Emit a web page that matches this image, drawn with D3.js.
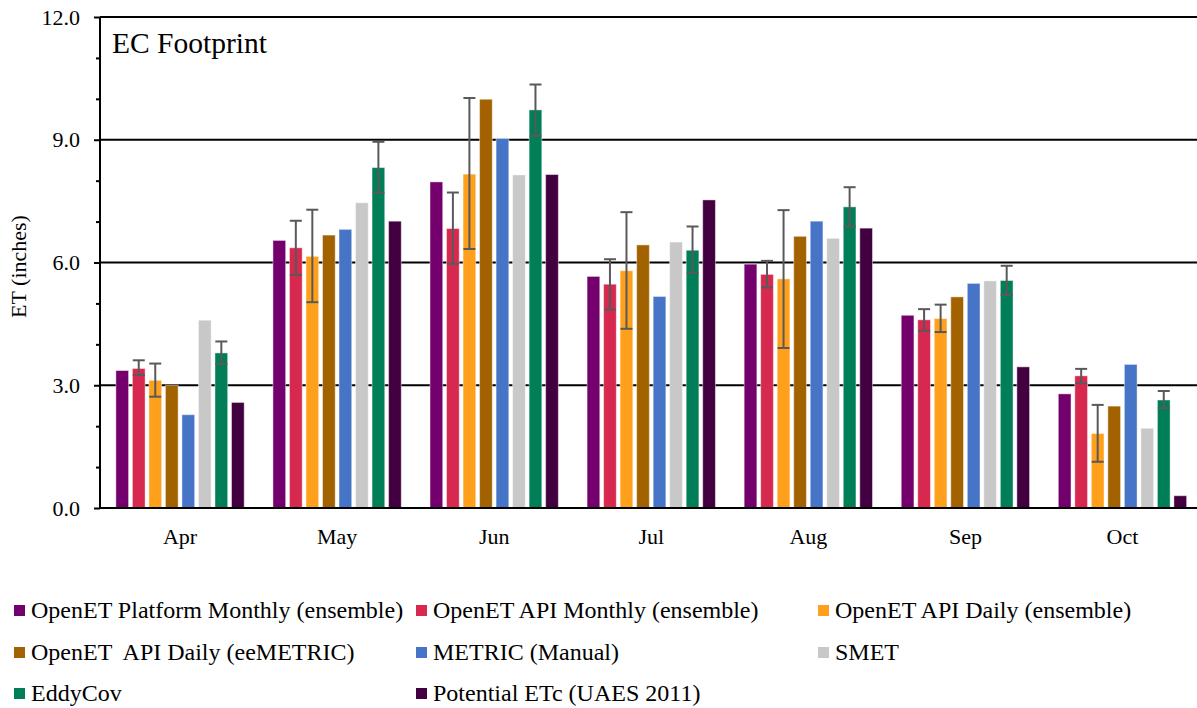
<!DOCTYPE html>
<html>
<head>
<meta charset="utf-8">
<script src="https://cdn.jsdelivr.net/npm/d3@7"></script>
<style>
  html, body { margin: 0; padding: 0; background: #fff; }
  svg { display: block; }
</style>
</head>
<body>
<svg id="chart" width="1197" height="708" font-family="Liberation Serif"></svg>
<script>
// Monthly ET (inches) at the EC footprint, by estimation method
const months = ["Apr", "May", "Jun", "Jul", "Aug", "Sep", "Oct"];

const seriesNames = [
  "OpenET Platform Monthly (ensemble)",
  "OpenET API Monthly (ensemble)",
  "OpenET API Daily (ensemble)",
  "OpenET  API Daily (eeMETRIC)",
  "METRIC (Manual)",
  "SMET",
  "EddyCov",
  "Potential ETc (UAES 2011)"
];

const seriesColors = ["#74006E", "#D72850", "#FFA01C", "#A36200", "#4674C6", "#C8C8C8", "#007E58", "#430040"];

const platformMonthly = [3.36, 6.54, 7.97, 5.66, 5.96, 4.71, 2.79];
const apiMonthly      = [3.41, 6.36, 6.83, 5.47, 5.71, 4.60, 3.23];
const apiDaily        = [3.12, 6.15, 8.16, 5.80, 5.60, 4.63, 1.82];
const apiEeMetric     = [3.00, 6.67, 9.99, 6.43, 6.64, 5.16, 2.49];
const metricManual    = [2.28, 6.81, 9.03, 5.17, 7.01, 5.49, 3.51];
const smet            = [4.59, 7.46, 8.14, 6.50, 6.59, 5.55, 1.95];
const eddyCov         = [3.79, 8.32, 9.73, 6.30, 7.36, 5.56, 2.64];
const potentialETc    = [2.58, 7.01, 8.15, 7.53, 6.84, 3.45, 0.30];

// Error bar ranges (low / high) for the series that carry them
const apiMonthlyLow   = [3.25, 5.70, 5.97, 4.85, 5.39, 4.33, 3.05];
const apiMonthlyHigh  = [3.61, 7.02, 7.71, 6.08, 6.04, 4.86, 3.40];
const apiDailyLow     = [2.72, 5.03, 6.33, 4.38, 3.91, 4.30, 1.13];
const apiDailyHigh    = [3.53, 7.29, 10.02, 7.23, 7.28, 4.97, 2.52];
const eddyCovLow      = [3.52, 7.71, 9.10, 5.75, 6.88, 5.21, 2.44];
const eddyCovHigh     = [4.07, 8.95, 10.35, 6.88, 7.84, 5.92, 2.86];

const majorTicks = [0, 3, 6, 9, 12];
const minorTicks = [1, 2, 4, 5, 7, 8, 10, 11];

const seriesValues = [platformMonthly, apiMonthly, apiDaily, apiEeMetric, metricManual, smet, eddyCov, potentialETc];
const seriesErrors = [null, [apiMonthlyLow, apiMonthlyHigh], [apiDailyLow, apiDailyHigh], null, null, null, [eddyCovLow, eddyCovHigh], null];

const FONT = "Liberation Serif";
const svg = d3.select("#chart");
const plot = { left: 100, right: 1201, top: 17, bottom: 508 };

const x = d3.scaleBand().domain(months).range([plot.left + 1.5, plot.right]).paddingInner(0).paddingOuter(0);
const inner = d3.scaleBand().domain(d3.range(seriesNames.length)).range([0, x.bandwidth()]).paddingInner(0.23).paddingOuter(0.87);
const y = d3.scaleLinear().domain([0, 12]).range([plot.bottom, plot.top]);

// Horizontal gridlines
svg.append("g")
  .selectAll("line")
  .data(majorTicks.filter(d => d > 0))
  .join("line")
  .attr("x1", plot.left).attr("x2", plot.right)
  .attr("y1", d => y(d)).attr("y2", d => y(d))
  .attr("stroke", "#000").attr("stroke-width", 2);

// Bars
const bars = svg.append("g");
seriesValues.forEach((vals, s) => {
  bars.append("g")
    .selectAll("rect")
    .data(vals.map((v, i) => ({ m: months[i], v })))
    .join("rect")
    .attr("x", d => x(d.m) + inner(s))
    .attr("y", d => y(d.v))
    .attr("width", inner.bandwidth())
    .attr("height", d => y(0) - y(d.v))
    .attr("fill", seriesColors[s])
    .attr("stroke", "#fff")
    .attr("stroke-opacity", 0.45)
    .attr("stroke-width", 1);
});

// Error bars
const errG = svg.append("g").attr("stroke", "#595959").attr("stroke-width", 2).attr("fill", "none");
seriesErrors.forEach((err, s) => {
  if (!err) return;
  const [lo, hi] = err;
  months.forEach((m, i) => {
    const cx = x(m) + inner(s) + inner.bandwidth() / 2;
    const cap = 6;
    errG.append("line").attr("x1", cx).attr("x2", cx).attr("y1", y(lo[i])).attr("y2", y(hi[i]));
    errG.append("line").attr("x1", cx - cap).attr("x2", cx + cap).attr("y1", y(lo[i])).attr("y2", y(lo[i]));
    errG.append("line").attr("x1", cx - cap).attr("x2", cx + cap).attr("y1", y(hi[i])).attr("y2", y(hi[i]));
  });
});

// Y axis: major ticks with labels, minor ticks without
const yAxis = svg.append("g")
  .attr("transform", `translate(${plot.left},0)`)
  .call(d3.axisLeft(y).tickValues(majorTicks).tickFormat(d3.format(".1f")).tickSize(6).tickPadding(14))
  .attr("font-family", FONT).attr("font-size", 22);
yAxis.select(".domain").attr("stroke", "#000").attr("stroke-width", 2).attr("d", `M0,${plot.top}V${plot.bottom}`);
yAxis.selectAll(".tick line").attr("stroke", "#000").attr("stroke-width", 2);

const yMinor = svg.append("g")
  .attr("transform", `translate(${plot.left},0)`)
  .call(d3.axisLeft(y).tickValues(minorTicks).tickFormat("").tickSize(4));
yMinor.select(".domain").remove();
yMinor.selectAll(".tick line").attr("stroke", "#000").attr("stroke-width", 2);

// X axis
const xAxis = svg.append("g")
  .attr("transform", `translate(0,${plot.bottom})`)
  .call(d3.axisBottom(x).tickSize(0).tickPadding(20))
  .attr("font-family", FONT).attr("font-size", 22);
xAxis.select(".domain").attr("stroke", "#000").attr("stroke-width", 2).attr("d", `M${plot.left},0H${plot.right}`);

// Axis title
svg.append("text")
  .attr("transform", `translate(26,${(plot.top + plot.bottom) / 2 + 4}) rotate(-90)`)
  .attr("text-anchor", "middle")
  .attr("font-size", 22)
  .text("ET (inches)");

// Panel title
svg.append("text")
  .attr("x", 112).attr("y", 53)
  .attr("font-size", 29.5)
  .text("EC Footprint");

// Legend: three columns
const legendCols = [14, 416, 818];
const legendRows = [610, 652, 693];
const legend = svg.append("g");
seriesNames.forEach((name, i) => {
  const lx = legendCols[i % 3];
  const ly = legendRows[Math.floor(i / 3)];
  const g = legend.append("g").attr("transform", `translate(${lx},${ly})`);
  g.append("rect").attr("x", 0).attr("y", -5).attr("width", 11).attr("height", 11).attr("fill", seriesColors[i]);
  g.append("text").attr("x", 17).attr("y", 8).attr("font-size", 24).attr("xml:space", "preserve").style("white-space", "pre").text(name);
});
</script>
</body>
</html>
